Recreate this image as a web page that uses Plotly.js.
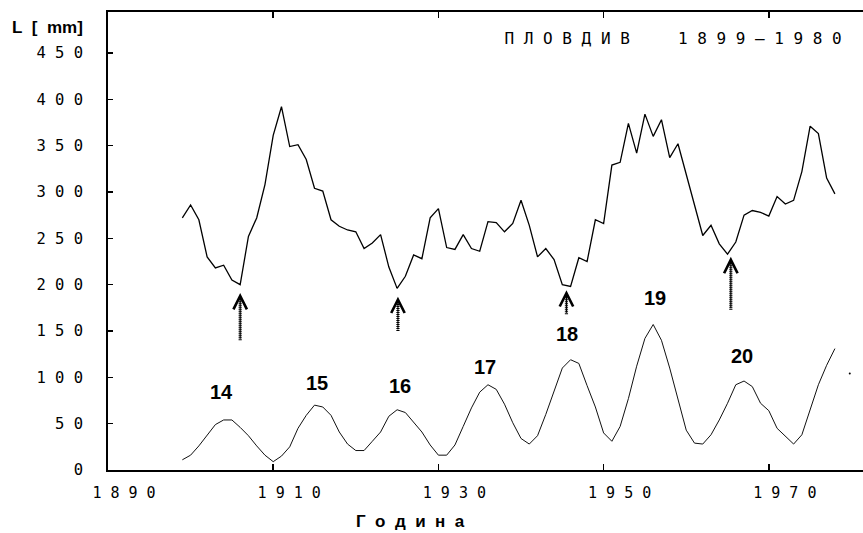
<!DOCTYPE html>
<html>
<head>
<meta charset="utf-8">
<script src="https://cdn.plot.ly/plotly-3.0.1.min.js"></script>
<style>html,body{margin:0;padding:0;background:#fff;}</style>
</head>
<body>
<div id="chart" style="width:863px;height:533px;"></div>
<script>
// ---- data ----
const years = [1899,1900,1901,1902,1903,1904,1905,1906,1907,1908,1909,
  1910,1911,1912,1913,1914,1915,1916,1917,1918,1919,
  1920,1921,1922,1923,1924,1925,1926,1927,1928,1929,
  1930,1931,1932,1933,1934,1935,1936,1937,1938,1939,
  1940,1941,1942,1943,1944,1945,1946,1947,1948,1949,
  1950,1951,1952,1953,1954,1955,1956,1957,1958,1959,
  1960,1961,1962,1963,1964,1965,1966,1967,1968,1969,
  1970,1971,1972,1973,1974,1975,1976,1977,1978];

// precipitation L [mm], Plovdiv (upper curve)
const precipitation = [272,286,270,230,218,221,205,200,252,272,308,
  361,392,349,351,335,304,301,270,263,259,
  257,239,245,254,219,196,209,232,228,272,
  282,240,238,254,239,236,268,267,257,266,
  291,264,230,239,227,200,198,229,225,270,
  266,329,332,374,342,384,360,378,337,352,
  319,286,253,264,244,233,246,275,280,278,
  274,295,287,291,322,371,363,315,298];

// solar activity (lower curve)
const sunspots = [11,16,26,38,49,54,54,46,37,26,16,
  9,15,25,45,59,70,68,59,41,28,
  21,21,31,41,58,65,62,52,41,27,
  16,16,27,47,67,84,92,87,71,51,
  34,28,37,60,84,110,119,115,91,68,
  40,31,47,77,112,142,157,140,110,75,
  43,29,28,38,54,72,92,96,90,72,
  64,45,36,28,38,65,92,113,131];

// stray point at the right edge of the reference
const strayX = [1979.8];
const strayY = [104];

// solar cycle numbers
const cycleLabels = ['14','15','16','17','18','19','20'];
const cycleX = [1903.7,1915.3,1925.4,1935.6,1945.6,1956.2,1966.8];
const cycleY = [84,94,91,111,147,186,123];

// arrows marking precipitation minima
const arrowX    = [1906.0,1925.1,1945.5,1965.4];
const arrowTail = [140,150,168,173];
const arrowTip  = [191,187,194,230];

// ticks
const xTickVals = [1890,1910,1930,1950,1970];
const xTickLabels = ['1890','1910','1930','1950','1970'];
const yTickVals = [0,50,100,150,200,250,300,350,400,450];
const yTickLabels = ['0','50','100','150','200','250','300','350','400','450'];

const titleText = 'ПЛОВДИВ  1899–1980';
const yTitleText = 'L [ mm]';
const xTitleText = 'Година';

// ---- helpers ----
const NB = '\u00A0';
function spaced(s, gap) { return s.split('').map(c => c === ' ' ? NB : c).join(gap); }

const pix = 'DejaVu Sans Mono, monospace';
const bold = 'Liberation Sans, Arial, sans-serif';

const traces = [
  {x: years, y: precipitation, mode: 'lines', line: {color: '#000', width: 1.3}, hoverinfo: 'skip'},
  {x: years, y: sunspots, mode: 'lines', line: {color: '#111', width: 1}, hoverinfo: 'skip'},
  {x: strayX, y: strayY, mode: 'markers', marker: {color: '#000', size: 2}, hoverinfo: 'skip'}
];
arrowX.forEach((ax, i) => {
  traces.push({x: [ax, ax], y: [arrowTail[i], arrowTip[i] - 5], mode: 'lines',
    line: {color: '#000', width: 3.2, dash: '1px,1px'}, hoverinfo: 'skip'});
});

const annotations = [];
cycleLabels.forEach((t, i) => {
  annotations.push({x: cycleX[i], y: cycleY[i], xref: 'x', yref: 'y', text: t, showarrow: false,
    font: {family: bold, size: 20, color: '#000', weight: 'bold'}});
});
arrowX.forEach((ax, i) => {
  annotations.push({x: ax, y: arrowTip[i], ax: ax, ay: arrowTail[i], xref: 'x', yref: 'y',
    axref: 'x', ayref: 'y', text: '', showarrow: true, arrowhead: 5, arrowsize: 2.4,
    arrowwidth: 1.1, arrowcolor: '#000', standoff: 0, startstandoff: 0});
});
annotations.push({xref: 'paper', yref: 'paper', x: -0.1298, y: 0.967, xanchor: 'left', yanchor: 'middle',
  text: yTitleText.replace(/ /g, NB + NB), showarrow: false,
  font: {family: bold, size: 17, color: '#000', weight: 'bold'}});
annotations.push({xref: 'paper', yref: 'paper', x: 0.401, y: -0.1135, xanchor: 'center', yanchor: 'middle',
  text: spaced(xTitleText, NB + NB), showarrow: false,
  font: {family: bold, size: 17, color: '#000', weight: 'bold'}});

const layout = {
  width: 863, height: 533,
  margin: {l: 108, r: 0, t: 12, b: 63, pad: 0},
  paper_bgcolor: '#fff', plot_bgcolor: '#fff',
  showlegend: false,
  title: {text: spaced(titleText, NB), x: 0.78, y: 0.9287, xref: 'container', yref: 'container',
    xanchor: 'center', yanchor: 'middle', font: {family: pix, size: 16, color: '#000'}},
  xaxis: {range: [1890, 1981.4], tickmode: 'array', tickvals: xTickVals,
    ticktext: xTickLabels.map(s => spaced(s, NB)),
    ticks: 'inside', ticklen: 6, tickwidth: 1.5, tickcolor: '#000',
    showline: true, linecolor: '#000', linewidth: 1.8, mirror: 'ticks',
    showgrid: false, zeroline: false,
    tickfont: {family: pix, size: 15, color: '#000'},
    ticklabelshift: 16, ticklabelstandoff: 8},
  yaxis: {range: [0, 494.2], tickmode: 'array', tickvals: yTickVals,
    ticktext: yTickLabels.map(s => spaced(s, NB)),
    ticks: 'inside', ticklen: 5, tickwidth: 1.5, tickcolor: '#000',
    showline: true, linecolor: '#000', linewidth: 1.8, mirror: false,
    showgrid: false, zeroline: false,
    tickfont: {family: pix, size: 15.5, color: '#000'},
    ticklabelstandoff: 20},
  annotations: annotations
};

Plotly.newPlot('chart', traces, layout, {staticPlot: true, displayModeBar: false});
</script>
</body>
</html>
